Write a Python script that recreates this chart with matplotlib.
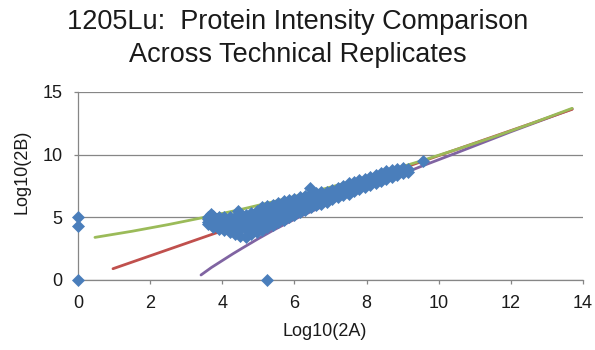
import matplotlib
matplotlib.use('Agg')
import matplotlib.pyplot as plt

plt.rcParams['font.family'] = ['Liberation Sans', 'DejaVu Sans']

# ---- data ----
title_lines = ["1205Lu:  Protein Intensity Comparison", "Across Technical Replicates"]
x_label = "Log10(2A)"
y_label = "Log10(2B)"
x_ticks = [0, 2, 4, 6, 8, 10, 12, 14]
y_ticks = [0, 5, 10, 15]

# isolated points
extra_x = [0.0, 0.0, 0.0, 5.23, 4.44, 6.43, 9.56, 3.70]
extra_y = [0.0, 4.30, 5.00, 0.0, 5.50, 7.35, 9.50, 5.25]

# dense band of proteins
cluster_x = [
    3.60, 3.60, 3.60, 3.60,
    3.75, 3.75, 3.75, 3.75,
    3.90, 3.90, 3.90, 3.90,
    4.05, 4.05, 4.05, 4.05,
    4.20, 4.20, 4.20, 4.20,
    4.35, 4.35, 4.35, 4.35,
    4.50, 4.50, 4.50, 4.50,
    4.65, 4.65, 4.65, 4.65,
    4.80, 4.80, 4.80, 4.80,
    4.95, 4.95, 4.95, 4.95,
    5.10, 5.10, 5.10, 5.10,
    5.25, 5.25, 5.25, 5.25,
    5.40, 5.40, 5.40, 5.40,
    5.55, 5.55, 5.55, 5.55,
    5.70, 5.70, 5.70, 5.70,
    5.85, 5.85, 5.85, 5.85,
    6.00, 6.00, 6.00, 6.00,
    6.15, 6.15, 6.15, 6.15,
    6.30, 6.30, 6.30, 6.30,
    6.45, 6.45, 6.45,
    6.60, 6.60, 6.60,
    6.75, 6.75, 6.75,
    6.90, 6.90, 6.90,
    7.05, 7.05, 7.05,
    7.20, 7.20, 7.20,
    7.35, 7.35, 7.35,
    7.50, 7.50, 7.50,
    7.65, 7.65, 7.65,
    7.80, 7.80, 7.80,
    7.95, 7.95, 7.95,
    8.10, 8.10, 8.10,
    8.25, 8.25, 8.25,
    8.40, 8.40, 8.40,
    8.55, 8.55, 8.55,
    8.70, 8.70, 8.70,
    8.85, 8.85, 8.85,
    9.00, 9.00,
    9.15, 9.15,
]
cluster_y = [
    4.45, 4.65, 4.85, 5.05,
    4.25, 4.55, 4.80, 5.10,
    4.10, 4.40, 4.75, 5.05,
    3.95, 4.30, 4.65, 5.00,
    3.80, 4.20, 4.60, 5.00,
    3.65, 4.10, 4.55, 5.05,
    3.50, 4.05, 4.55, 5.10,
    3.45, 4.05, 4.60, 5.20,
    3.65, 4.25, 4.80, 5.35,
    3.85, 4.40, 4.95, 5.50,
    4.00, 4.60, 5.20, 5.80,
    4.20, 4.75, 5.30, 5.90,
    4.40, 4.95, 5.45, 6.00,
    4.60, 5.15, 5.65, 6.15,
    4.80, 5.30, 5.80, 6.30,
    5.00, 5.50, 5.95, 6.40,
    5.20, 5.65, 6.10, 6.50,
    5.40, 5.85, 6.20, 6.60,
    5.60, 6.00, 6.35, 6.70,
    5.80, 6.30, 6.85,
    5.95, 6.45, 6.95,
    6.10, 6.55, 7.00,
    6.25, 6.65, 7.05,
    6.45, 6.80, 7.15,
    6.60, 7.00, 7.35,
    6.75, 7.10, 7.50,
    6.90, 7.30, 7.70,
    7.10, 7.45, 7.85,
    7.25, 7.60, 7.95,
    7.40, 7.75, 8.05,
    7.55, 7.90, 8.25,
    7.70, 8.05, 8.40,
    7.90, 8.20, 8.55,
    8.05, 8.40, 8.70,
    8.20, 8.50, 8.80,
    8.35, 8.60, 8.85,
    8.50, 8.90,
    8.65, 8.85,
]

# trend lines
green_x = [0.47, 1.5, 2.5, 3.5, 4.5, 5.5, 6.5, 7.5, 8.5, 9.5, 10.5, 11.5, 12.5, 13.7]
green_y = [3.40, 3.89, 4.42, 5.00, 5.62, 6.30, 7.02, 7.80, 8.62, 9.49, 10.42, 11.39, 12.41, 13.70]

red_x = [0.97, 13.7]
red_y = [0.90, 13.62]

purple_x = [3.41, 3.7, 4.0, 4.3, 4.6, 5.0, 5.4, 5.8, 6.2, 6.8, 7.5, 8.5, 9.5, 10.5, 12.0, 13.7]
purple_y = [0.40, 1.00, 1.55, 2.10, 2.62, 3.30, 3.95, 4.55, 5.12, 5.90, 6.75, 7.90, 9.05, 10.15, 11.83, 13.65]

# ---- figure ----
W, H = 595, 350
fig = plt.figure(figsize=(W / 100, H / 100), dpi=100)
fig.patch.set_facecolor('white')
ax = fig.add_axes([78 / W, 70 / H, (583 - 78) / W, (280 - 92) / H])

grey = '#868686'
ax.plot(purple_x, purple_y, color='#8064A2', lw=2.0, zorder=2, solid_capstyle='round')
ax.plot(red_x, red_y, color='#C0504D', lw=2.0, zorder=2, solid_capstyle='round')
ax.plot(green_x, green_y, color='#9BBB59', lw=2.0, zorder=2, solid_capstyle='round')

ax.plot(cluster_x, cluster_y, linestyle='none', marker='D', ms=6.6,
        color='#4A7EBB', mec='#4A7EBB', mew=0.5, clip_on=False, zorder=3)
ax.plot(extra_x, extra_y, linestyle='none', marker='D', ms=6.6,
        color='#4A7EBB', mec='#4A7EBB', mew=0.5, clip_on=False, zorder=3)

ax.set_xlim(0, 14)
ax.set_ylim(0, 15)
ax.set_xticks(x_ticks)
ax.set_yticks(y_ticks)
ax.yaxis.grid(True, color=grey, lw=0.9)
ax.set_axisbelow(True)
for s in ['top', 'right']:
    ax.spines[s].set_visible(False)
for s in ['left', 'bottom']:
    ax.spines[s].set_color(grey)
    ax.spines[s].set_linewidth(0.9)
ax.tick_params(axis='both', colors=grey, length=3, width=0.9, labelcolor='#1a1a1a',
               labelsize=13)
ax.tick_params(axis='x', pad=8)
ax.tick_params(axis='y', pad=8)

fig.text(325 / W, 1 - 331 / H, x_label, ha='center', va='center', fontsize=13, color='#1a1a1a')
fig.text(22 / W, 1 - 172 / H, y_label, ha='center', va='center', rotation=90,
         fontsize=13, color='#1a1a1a')

fig.text(0.5, 1 - 22 / H, title_lines[0], ha='center', va='center', fontsize=19.5, color='#1a1a1a')
fig.text(0.5, 1 - 55 / H, title_lines[1], ha='center', va='center', fontsize=19.5, color='#1a1a1a')

fig.savefig('out.png', dpi=100, facecolor='white')
